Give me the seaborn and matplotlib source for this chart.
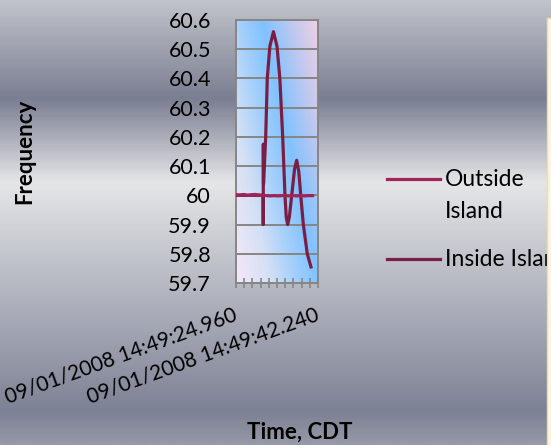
import matplotlib
matplotlib.use('Agg')
import matplotlib.pyplot as plt
import numpy as np
import pandas as pd
import seaborn as sns
from matplotlib.colors import LinearSegmentedColormap
from matplotlib.lines import Line2D
from matplotlib.patches import Rectangle

# Data: seconds after 09/01/2008 14:49:00, frequency in Hz
outside_t = [24.96, 25.8, 26.6, 27.4, 28.2, 29.0, 29.8, 30.6, 31.4, 32.2, 33.0,
             33.8, 34.6, 35.4, 36.2, 37.0, 37.8, 38.6, 39.4, 40.2, 41.1]
outside_f = [60.002, 60.001, 60.003, 60.000, 60.002, 60.003, 60.001, 60.000, 59.999, 59.998, 59.999,
             59.998, 59.999, 59.999, 59.998, 59.999, 59.998, 59.999, 59.998, 59.999, 59.999]

inside_t = [24.96, 26.0, 27.0, 28.0, 29.0, 30.0, 30.68, 30.70, 30.72, 30.76, 31.0, 31.22,
            31.55, 32.1, 32.85, 33.6, 34.2, 34.8, 35.28, 35.55, 35.85, 36.2, 36.7, 37.3,
            37.75, 38.2, 38.6, 39.15, 39.98, 40.76]
inside_f = [60.0, 60.0, 60.0, 60.0, 60.0, 60.0, 60.0, 59.90, 60.175, 60.04, 60.12, 60.2,
            60.4, 60.51, 60.56, 60.51, 60.4, 60.2, 60.0, 59.925, 59.9, 59.925, 60.0, 60.09,
            60.12, 60.08, 60.0, 59.9, 59.8, 59.755]

tick_pos = [24.96, 42.24]
tick_labels = ['09/01/2008 14:49:24.960', '09/01/2008 14:49:42.240']
y_ticks = [59.7, 59.8, 59.9, 60.0, 60.1, 60.2, 60.3, 60.4, 60.5, 60.6]

df = pd.concat([
    pd.DataFrame({'time': inside_t, 'freq': inside_f, 'series': 'Inside Island'}),
    pd.DataFrame({'time': outside_t, 'freq': outside_f, 'series': 'Outside Island'}),
])

colors = {'Outside Island': '#A0235A', 'Inside Island': '#7A1E44'}
font = 'Lato'
grey = '#868686'

fig = plt.figure(figsize=(5.51, 4.45), dpi=100)

# metallic background
bg = fig.add_axes([0, 0, 1, 1], zorder=-10)
bg_cmap = LinearSegmentedColormap.from_list('metal', [
    (0.0, (192/255, 195/255, 202/255)),
    (0.22, (122/255, 126/255, 145/255)),
    (0.41, (230/255, 230/255, 232/255)),
    (0.56, (198/255, 200/255, 207/255)),
    (0.93, (125/255, 129/255, 148/255)),
    (1.0, (150/255, 153/255, 166/255)),
])
bg.imshow(np.linspace(0, 1, 300).reshape(-1, 1), cmap=bg_cmap, aspect='auto',
          extent=[0, 1, 0, 1], origin='upper')
bg.axis('off')

ax = fig.add_axes([236/551, 1 - 283/445, 82/551, 263/445])
ax.patch.set_alpha(0)

# plot-area gradient
plot_cmap = LinearSegmentedColormap.from_list('plotbg', [
    (0.0, (245/255, 232/255, 248/255)),
    (0.25, (212/255, 224/255, 245/255)),
    (0.45, (160/255, 206/255, 252/255)),
    (0.6, (128/255, 194/255, 255/255)),
    (0.8, (188/255, 200/255, 240/255)),
    (1.0, (240/255, 208/255, 228/255)),
])
gx, gy = np.meshgrid(np.linspace(0, 82, 100), np.linspace(263, 0, 300))
s = (263 * gx + 57 * gy) / (263 * 82 + 57 * 263)
ax.imshow(s, cmap=plot_cmap, aspect='auto', extent=[0, 1, 0, 1],
          transform=ax.transAxes, zorder=0)

sns.lineplot(data=df, x='time', y='freq', hue='series',
             hue_order=['Inside Island', 'Outside Island'], palette=colors,
             estimator=None, sort=False, lw=2.3, legend=False, ax=ax, zorder=3)

ax.set_xlim(24.96, 42.24)
ax.set_ylim(59.7, 60.6)
ax.set_yticks(y_ticks)
ax.set_yticklabels([f'{v:g}' for v in y_ticks], fontsize=15.5, family=font)
ax.grid(axis='y', color=grey, lw=1.4, zorder=1)
ax.set_axisbelow(False)
ax.tick_params(axis='y', length=0, pad=18)

ax.set_xticks(tick_pos)
ax.set_xticks(np.linspace(24.96, 42.24, 11), minor=True)
ax.set_xticklabels(tick_labels, rotation=20, ha='right', va='center',
                   rotation_mode='anchor', fontsize=15, family=font)
ax.tick_params(axis='x', which='both', direction='inout', length=7, width=1.2,
               color=grey, pad=19)

for sp in ax.spines.values():
    sp.set_color(grey)
    sp.set_linewidth(1.4)

ax.set_ylabel('Frequency', fontsize=16, fontweight='bold', family=font)
ax.yaxis.set_label_coords(-2.45, 0.5)
ax.set_xlabel('Time, CDT', fontsize=16, fontweight='bold', family=font)
ax.xaxis.set_label_coords(0.78, -0.528)

# legend
for y, key in [(179, 'Outside Island'), (259, 'Inside Island')]:
    fig.add_artist(Line2D([387/551, 440/551], [1 - y/445, 1 - y/445],
                          color=colors[key], lw=2.3, transform=fig.transFigure))
fig.text(445/551, 1 - 179/445, 'Outside', fontsize=16.5, family=font, va='center')
fig.text(445/551, 1 - 212/445, 'Island', fontsize=16.5, family=font, va='center')
fig.text(445/551, 1 - 259/445, 'Inside Island', fontsize=16.5, family=font, va='center')

# cream panel at the right edge
fig.add_artist(Rectangle((547/551, 0), 10/551, 1 - 18/445, transform=fig.transFigure,
                         facecolor='#FFF6DA', edgecolor='#E8DDB8', lw=1, zorder=20))

fig.savefig('out.png', dpi=100)
